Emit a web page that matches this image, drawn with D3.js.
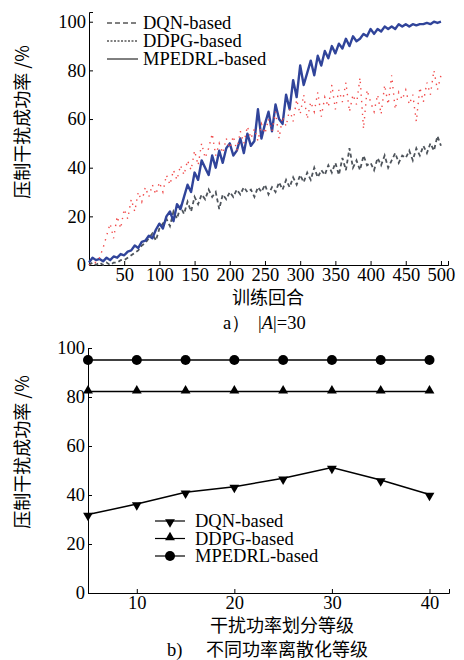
<!DOCTYPE html>
<html>
<head>
<meta charset="utf-8">
<script src="https://cdn.jsdelivr.net/npm/d3@7"></script>
<style>
body { margin: 0; background: #fff; }
</style>
</head>
<body>
<svg id="chart" width="464" height="660"></svg>
<script>
// ---- chart a: training curves, one value every 5 episodes ----
var episodes = d3.range(0, 501, 5);
var xTicksA = [50, 100, 150, 200, 250, 300, 350, 400, 450, 500];
var yTicksA = [0, 20, 40, 60, 80, 100];

var dqnA = [0, 1, 0, 1, 0, 1, 0, 1, 1, 2,
    2, 3, 4, 5, 6, 8, 9, 11, 13, 10,
    15, 17, 19, 16, 22, 19, 24, 21, 26, 22,
    28, 25, 29, 27, 31, 28, 30, 23, 29, 27,
    30, 28, 31, 29, 32, 30, 31, 28, 32, 30,
    33, 29, 32, 30, 34, 31, 35, 32, 36, 33,
    37, 34, 38, 35, 40, 36, 39, 37, 41, 38,
    42, 37, 44, 39, 48, 40, 43, 39, 45, 41,
    42, 39, 44, 41, 45, 40, 43, 46, 42, 45,
    44, 47, 43, 48, 45, 49, 46, 50, 47, 53, 49];

var ddpgA = [0, 1, 1, 3, 7, 12, 17, 11, 20, 15,
    23, 19, 27, 22, 30, 26, 32, 28, 33, 29,
    34, 30, 37, 33, 39, 35, 41, 37, 43, 39,
    47, 41, 50, 44, 48, 54, 45, 50, 46, 52,
    48, 53, 47, 55, 50, 57, 52, 56, 51, 58,
    54, 60, 55, 63, 52, 61, 57, 64, 59, 68,
    62, 70, 60, 67, 63, 71, 61, 69, 65, 74,
    64, 72, 67, 75, 63, 70, 66, 77, 56, 72,
    67, 63, 70, 62, 74, 66, 78, 64, 71, 68,
    72, 66, 70, 59, 73, 67, 75, 70, 80, 72, 78];

var mpedrlA = [1, 3, 2, 2.5, 1.5, 3, 2, 3.5, 3, 4.5,
    4, 5.5, 6, 8, 7, 9.5, 10, 12, 11, 14.5,
    17, 15, 20, 22, 18, 25, 23, 28, 33, 30,
    38, 35, 43, 40, 37, 45, 40, 47, 42, 48,
    50, 45, 47, 52, 46, 54, 49, 51, 64, 52,
    58, 63, 55, 66, 60, 58, 70, 64, 76, 69,
    82, 74, 79, 84, 78, 86, 82, 88, 85, 90,
    87, 91, 89, 93, 90, 94, 92, 93, 95, 94,
    97, 95, 97, 96, 98, 97, 98, 97, 99, 98,
    99, 98, 99, 98.5, 99, 99, 99.5, 99, 100, 99.5, 100];

// ---- chart b: success rate per power level ----
var levels = [5, 10, 15, 20, 25, 30, 35, 40];
var xTicksB = [10, 20, 30, 40];
var yTicksB = [0, 20, 40, 60, 80, 100];
var dqnB = [32, 36.3, 41.1, 43.4, 46.8, 51.2, 46.1, 40.2];
var ddpgB = [82.2, 82.2, 82.2, 82.2, 82.2, 82.2, 82.2, 82.2];
var mpedrlB = [95.1, 95.1, 95.1, 95.1, 95.1, 95.1, 95.1, 95.1];

var seriesNames = ['DQN-based', 'DDPG-based', 'MPEDRL-based'];
var yTitle = '压制干扰成功率 /%';

var SERIF = '"Liberation Serif", "Times New Roman", serif';
var CJK = '"Noto Sans CJK SC", "Liberation Serif", sans-serif';
var FS = 18.5;

var svg = d3.select('#chart').attr('font-family', SERIF);

function styleAxis(g) {
    g.attr('font-family', SERIF).attr('font-size', FS);
    g.selectAll('path, line').attr('stroke', '#000').attr('stroke-width', 1);
    g.selectAll('text').attr('fill', '#000').attr('font-family', SERIF);
}

function addText(x, y, str, size, font) {
    return svg.append('text')
        .attr('x', x).attr('y', y)
        .attr('dy', '0.35em')
        .attr('font-size', size)
        .attr('font-family', font || SERIF)
        .attr('fill', '#000')
        .text(str);
}

// ================= chart a =================
var xA = d3.scaleLinear().domain([0, 510]).range([89, 448]);
var yA = d3.scaleLinear().domain([0, 104]).range([265, 12]);

svg.append('g')
    .attr('transform', 'translate(0,265)')
    .call(d3.axisBottom(xA).tickValues(xTicksA).tickSize(-4).tickPadding(3))
    .call(styleAxis);
svg.append('g')
    .attr('transform', 'translate(89,0)')
    .call(d3.axisLeft(yA).tickValues(yTicksA).tickSize(-4).tickPadding(3))
    .call(styleAxis);

var lineA = function(vals) {
    return d3.line()
        .x(function(d, i) { return xA(episodes[i]); })
        .y(function(d) { return yA(d); })(vals);
};

svg.append('path')
    .attr('d', lineA(dqnA))
    .attr('fill', 'none')
    .attr('stroke', '#4e545b')
    .attr('stroke-width', 1.8)
    .attr('stroke-dasharray', '4,3');

svg.append('path')
    .attr('d', lineA(mpedrlA))
    .attr('fill', 'none')
    .attr('stroke', '#30449a')
    .attr('stroke-width', 2.4)
    .attr('stroke-linejoin', 'round');

// DDPG is a dotted line, so its jumps show up as a cloud of dots
svg.append('path')
    .attr('d', lineA(ddpgA))
    .attr('fill', 'none')
    .attr('stroke', '#f04a4a')
    .attr('stroke-width', 1.4)
    .attr('stroke-dasharray', '1.4,5');

// legend a
var dashes = ['5,3', '2,1.5', null];
seriesNames.forEach(function(name, i) {
    var y = 23 + i * 18;
    svg.append('line')
        .attr('x1', 107).attr('x2', 138)
        .attr('y1', y).attr('y2', y)
        .attr('stroke', '#000')
        .attr('stroke-width', 1)
        .attr('stroke-dasharray', dashes[i]);
    addText(143, y, name, FS);
});

svg.append('text')
    .attr('transform', 'translate(23,122) rotate(-90)')
    .attr('text-anchor', 'middle')
    .attr('dy', '0.35em')
    .attr('font-size', 18)
    .attr('font-family', CJK)
    .text(yTitle);

addText(268, 298, '训练回合', 18, CJK).attr('text-anchor', 'middle');

addText(223, 323, 'a）', FS);
var capA = addText(258, 323, '', FS);
capA.append('tspan').text('|');
capA.append('tspan').attr('font-style', 'italic').text('A');
capA.append('tspan').text('|=30');

// ================= chart b =================
var xB = d3.scaleLinear().domain([5, 42]).range([88, 449]);
var yB = d3.scaleLinear().domain([0, 100]).range([593, 348]);

svg.append('g')
    .attr('transform', 'translate(0,593)')
    .call(d3.axisBottom(xB).tickValues(xTicksB).tickSize(-4).tickPadding(3))
    .call(styleAxis);
svg.append('g')
    .attr('transform', 'translate(88,0)')
    .call(d3.axisLeft(yB).tickValues(yTicksB).tickSize(-4).tickPadding(3))
    .call(styleAxis);

var lineB = d3.line()
    .x(function(d, i) { return xB(levels[i]); })
    .y(function(d) { return yB(d); });

var tri = d3.symbol().type(d3.symbolTriangle).size(42);

var seriesB = [
    { vals: dqnB, marker: 'down' },
    { vals: ddpgB, marker: 'up' },
    { vals: mpedrlB, marker: 'circle' }
];

function drawMarker(g, kind, x, y) {
    if (kind === 'circle') {
        g.append('circle').attr('cx', x).attr('cy', y).attr('r', 5).attr('fill', '#000');
    } else if (kind === 'up') {
        g.append('path').attr('d', tri()).attr('fill', '#000')
            .attr('transform', 'translate(' + x + ',' + (y - 1) + ')');
    } else {
        g.append('path').attr('d', tri()).attr('fill', '#000')
            .attr('transform', 'translate(' + x + ',' + (y + 1) + ') rotate(180)');
    }
}

seriesB.forEach(function(s) {
    svg.append('path')
        .attr('d', lineB(s.vals))
        .attr('fill', 'none')
        .attr('stroke', '#000')
        .attr('stroke-width', 1.5);
    var g = svg.append('g');
    s.vals.forEach(function(v, i) {
        drawMarker(g, s.marker, xB(levels[i]), yB(v));
    });
});

// legend b
seriesB.forEach(function(s, i) {
    var y = 521 + i * 17.5;
    svg.append('line')
        .attr('x1', 155).attr('x2', 185)
        .attr('y1', y).attr('y2', y)
        .attr('stroke', '#000')
        .attr('stroke-width', 1.2);
    drawMarker(svg.append('g'), s.marker, 170, y);
    addText(195, y, seriesNames[i], FS);
});

svg.append('text')
    .attr('transform', 'translate(23,452) rotate(-90)')
    .attr('text-anchor', 'middle')
    .attr('dy', '0.35em')
    .attr('font-size', 18)
    .attr('font-family', CJK)
    .text(yTitle);

addText(282, 626, '干扰功率划分等级', 18, CJK).attr('text-anchor', 'middle');

addText(167, 650, 'b)', FS);
addText(206, 650, '不同功率离散化等级', 18, CJK);
</script>
</body>
</html>
